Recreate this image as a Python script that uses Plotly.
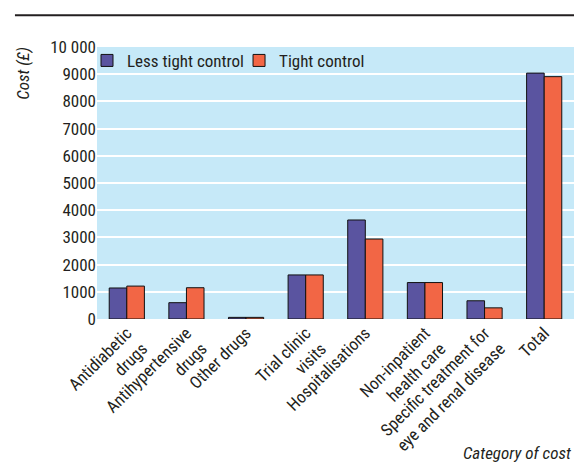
import plotly.graph_objects as go

categories = ["Antidiabetic<br>drugs", "Antihypertensive<br>drugs", "Other drugs",
              "Trial clinic<br>visits", "Hospitalisations", "Non-inpatient<br>health care",
              "Specific treatment for<br>eye and renal disease", "Total"]
less_tight = [1140, 600, 60, 1620, 3640, 1340, 670, 9040]
tight = [1210, 1150, 60, 1620, 2940, 1340, 410, 8910]
y_tickvals = [0, 1000, 2000, 3000, 4000, 5000, 6000, 7000, 8000, 9000, 10000]
y_ticktext = ["0", "1000", "2000", "3000", "4000", "5000", "6000", "7000", "8000", "9000", "10 000"]

FONT = "Roboto Condensed, Arial Narrow, Liberation Sans, sans-serif"
TXT = "#231f20"

fig = go.Figure()
fig.add_trace(go.Bar(x=categories, y=less_tight, name="Less tight control",
                     marker=dict(color="#5a54a0", line=dict(color="#111111", width=1))))
fig.add_trace(go.Bar(x=categories, y=tight, name="Tight control",
                     marker=dict(color="#f26645", line=dict(color="#111111", width=1))))

fig.update_layout(
    width=574, height=464,
    margin=dict(l=97, r=0, t=47, b=145),
    paper_bgcolor="white", plot_bgcolor="#c6e9f8",
    barmode="group", bargap=0.41, bargroupgap=0,
    font=dict(family=FONT, size=17, color=TXT),
    showlegend=True,
    legend=dict(orientation="h", x=0, y=0.949, xanchor="left", yanchor="middle",
                bgcolor="rgba(0,0,0,0)", font=dict(size=17, color=TXT),
                itemwidth=30, traceorder="normal", indentation=-10),
    xaxis=dict(tickangle=-45, showgrid=False, ticks="", showline=False,
               tickfont=dict(size=17, color=TXT)),
    yaxis=dict(range=[0, 10000], tickvals=y_tickvals, ticktext=y_ticktext,
               showgrid=True, gridcolor="white", gridwidth=2, zeroline=False,
               ticks="", showline=False, tickfont=dict(size=17, color=TXT)),
    shapes=[dict(type="line", xref="paper", yref="paper",
                 x0=-0.172, x1=1.0, y0=1.117, y1=1.117,
                 line=dict(color="#231f20", width=2))],
    annotations=[
        dict(text="<i>Cost (£)</i>", xref="paper", yref="paper",
             x=-0.157, y=1.007, xanchor="center", yanchor="top", textangle=-90,
             showarrow=False, font=dict(size=17, color=TXT)),
        dict(text="<i>Category of cost</i>", xref="paper", yref="paper",
             x=0.997, y=-0.535, xanchor="right", yanchor="bottom",
             showarrow=False, font=dict(size=17, color=TXT)),
    ],
)

fig.write_html("out.html",
               config={"displayModeBar": False},
               post_script="document.body.style.margin='0';document.body.style.overflow='hidden';")
